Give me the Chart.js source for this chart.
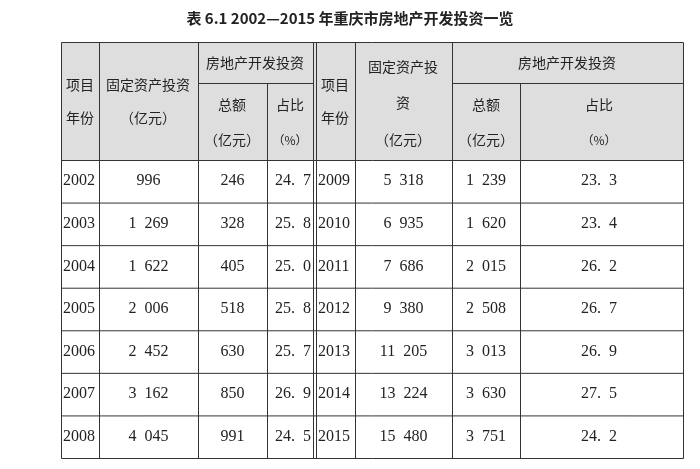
<!DOCTYPE html>
<html><head><meta charset="utf-8">
<script src="https://cdn.jsdelivr.net/npm/chart.js@4/dist/chart.umd.min.js"></script>
<style>body{margin:0;background:#fff}</style>
</head><body>
<canvas id="c" width="700" height="469"></canvas>
<script>
// table data
var years = [2002, 2003, 2004, 2005, 2006, 2007, 2008, 2009, 2010, 2011, 2012, 2013, 2014, 2015];
var fixedInvest = ["996", "1 269", "1 622", "2 006", "2 452", "3 162", "4 045", "5 318", "6 935", "7 686", "9 380", "11 205", "13 224", "15 480"];
var realEstate = ["246", "328", "405", "518", "630", "850", "991", "1 239", "1 620", "2 015", "2 508", "3 013", "3 630", "3 751"];
var share = ["24. 7", "25. 8", "25. 0", "25. 8", "25. 7", "26. 9", "24. 5", "23. 3", "23. 4", "26. 2", "26. 7", "26. 9", "27. 5", "24. 2"];
var title = "表 6.1 2002—2015 年重庆市房地产开发投资一览";

// layout (pixel units on hidden linear scales)
var colsL = [61, 99, 198, 267, 313];
var colsR = [316, 355, 452, 520, 683];
var top0 = 42, subLine = 83, headBottom = 160, bottom = 458;

var cjk = '"Noto Sans CJK SC", sans-serif';
var num = '"Liberation Serif", serif';

var tablePlugin = {
  id: 'table',
  afterDraw: function(chart) {
    var ctx = chart.ctx, sx = chart.scales.x, sy = chart.scales.y;
    var X = function(v){ return sx.getPixelForValue(v); };
    var Y = function(v){ return sy.getPixelForValue(v); };
    var rowH = (bottom - headBottom) / 7;
    ctx.save();
    // header shading
    ctx.fillStyle = '#dedede';
    ctx.fillRect(X(61), Y(top0), X(683) - X(61), Y(headBottom) - Y(top0));
    ctx.strokeStyle = '#333';
    ctx.lineWidth = 1;
    function line(x1, y1, x2, y2) {
      ctx.beginPath(); ctx.moveTo(X(x1) + 0.5, Y(y1) + 0.5); ctx.lineTo(X(x2) + 0.5, Y(y2) + 0.5); ctx.stroke();
    }
    line(61, top0, 683, top0);
    line(198, subLine, 313, subLine);
    line(452, subLine, 683, subLine);
    for (var r = 0; r <= 7; r++) line(61, headBottom + r * rowH, 683, headBottom + r * rowH);
    [61, 99, 198, 313, 316, 355, 452, 683].forEach(function(x){ line(x, top0, x, bottom); });
    line(267, subLine, 267, bottom);
    line(520, subLine, 520, bottom);

    ctx.fillStyle = '#222';
    ctx.textBaseline = 'middle';
    function txt(s, x, y, align, size, bold, font) {
      ctx.font = (bold ? '600 ' : '') + (size || 14) + 'px ' + (font || cjk);
      ctx.textAlign = align || 'center';
      ctx.fillText(s, X(x), Y(y));
    }
    txt(title, 350, 18, 'center', 15, true);
    txt('项目', 80, 85); txt('年份', 80, 118);
    txt('固定资产投资', 148, 85); txt('（亿元）', 148, 118);
    txt('房地产开发投资', 255, 63);
    txt('总额', 232, 105); txt('（亿元）', 232, 140);
    txt('占比', 290, 105); txt('（%）', 290, 140, 'center', 12);
    txt('项目', 335, 85); txt('年份', 335, 118);
    txt('固定资产投', 403, 67); txt('资', 403, 103); txt('（亿元）', 403, 140);
    txt('房地产开发投资', 567, 63);
    txt('总额', 486, 105); txt('（亿元）', 486, 140);
    txt('占比', 599, 105); txt('（%）', 599, 140, 'center', 12);
    function n(s) { return s.replace(' ', '\u2002'); }
    for (var i = 0; i < years.length; i++) {
      var cols = i < 7 ? colsL : colsR;
      var yc = headBottom + (i % 7 + 0.5) * rowH;
      txt(String(years[i]), cols[0] + 2, yc, 'left', 16, false, num);
      txt(n(fixedInvest[i]), (cols[1] + cols[2]) / 2, yc, 'center', 16, false, num);
      txt(n(realEstate[i]), (cols[2] + cols[3]) / 2, yc, 'center', 16, false, num);
      if (i < 7) txt(n(share[i]), cols[4] - 2, yc, 'right', 16, false, num);
      else txt(n(share[i]), 599, yc, 'center', 16, false, num);
    }
    ctx.restore();
  }
};

new Chart(document.getElementById('c'), {
  type: 'scatter',
  data: { datasets: [{ data: [] }] },
  options: {
    responsive: false,
    animation: false,
    layout: { padding: 0 },
    plugins: { legend: { display: false }, tooltip: { enabled: false } },
    scales: {
      x: { type: 'linear', min: 0, max: 700, display: false },
      y: { type: 'linear', min: 0, max: 469, reverse: true, display: false }
    }
  },
  plugins: [tablePlugin]
});
</script>
</body></html>
